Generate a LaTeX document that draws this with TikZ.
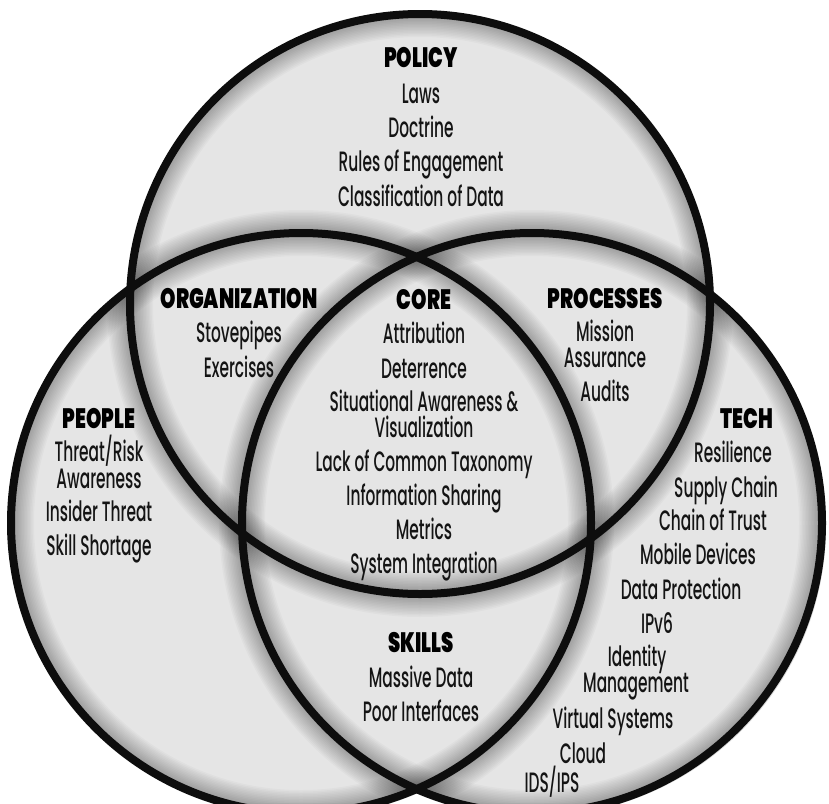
\documentclass[tikz,border=0pt]{standalone}
\usepackage{fontspec}
\setmainfont{Poppins Medium}[FakeStretch=0.55]
\newfontfamily\headfont{Poppins Black}[FakeStretch=0.70]
\begin{document}
\begin{tikzpicture}[x=1pt,y=-1pt]
\tikzset{
  item/.style={font=\fontsize{28}{30}\selectfont, text height=18.5pt, text depth=0pt, inner sep=0pt, text=black!92},
  head/.style={font=\headfont\fontsize{28}{30}\selectfont, text height=19pt, text depth=0pt, inner sep=0pt, text=black},
  ring/.style={line width=8pt, draw=black!95},
  glow/.style={draw=black, opacity=0.025}
}
\useasboundingbox (0,0) rectangle (829,803);
\fill[white] (0,0) rectangle (829,803);
\coordinate (T) at (420,304);
\coordinate (L) at (301,523);
\coordinate (Rc) at (532,523);
% drop shadow
\fill[black, opacity=0.15] ([shift={(4,3)}]T) circle[radius=290pt] ([shift={(4,3)}]L) circle[radius=290pt] ([shift={(4,3)}]Rc) circle[radius=290pt];
\begin{scope}
  \clip (T) circle[radius=290pt] (L) circle[radius=290pt] (Rc) circle[radius=290pt];
  \fill[black!10] (0,0) rectangle (829,803);
  \foreach \w in {10,13,...,46} {
    \draw[glow, line width=\w pt] (T) circle[radius=290pt];
    \draw[glow, line width=\w pt] (L) circle[radius=290pt];
    \draw[glow, line width=\w pt] (Rc) circle[radius=290pt];
  }
\end{scope}
\draw[ring] (T) circle[radius=290pt];
\draw[ring] (L) circle[radius=290pt];
\draw[ring] (Rc) circle[radius=290pt];
% POLICY
\node[head] (policy) at (421,58) {POLICY};
\node[item] (laws) at (421,94) {Laws};
\node[item] (doctrine) at (421,128) {Doctrine};
\node[item] (roe) at (421,162) {Rules of Engagement};
\node[item] (cod) at (421,197) {Classification of Data};
% ORGANIZATION
\node[head] (org) at (239,299) {ORGANIZATION};
\node[item] (stove) at (239,333) {Stovepipes};
\node[item] (exer) at (239,368) {Exercises};
% CORE
\node[head] (core) at (424,300) {CORE};
\node[item] (attr) at (424,334) {Attribution};
\node[item] (deter) at (424,369) {Deterrence};
\node[item] (sit) at (424,402) {Situational Awareness \&};
\node[item] (visu) at (424,428) {Visualization};
\node[item] (lack) at (424,462) {Lack of Common Taxonomy};
\node[item] (info) at (424,496) {Information Sharing};
\node[item] (metr) at (424,530) {Metrics};
\node[item] (sysint) at (424,564) {System Integration};
% PROCESSES
\node[head] (proc) at (605,299) {PROCESSES};
\node[item] (mission) at (605,332) {Mission};
\node[item] (assur) at (605,358) {Assurance};
\node[item] (audits) at (605,392) {Audits};
% PEOPLE
\node[head] (people) at (99,419) {PEOPLE};
\node[item] (threat) at (99,452) {Threat/Risk};
\node[item] (aware) at (99,479) {Awareness};
\node[item] (insider) at (99,512) {Insider Threat};
\node[item] (skillsh) at (99,546) {Skill Shortage};
% TECH
\node[head] (tech) at (747,419) {TECH};
\node[item] (resil) at (733,453) {Resilience};
\node[item] (supply) at (726,488) {Supply Chain};
\node[item] (trust) at (713,521) {Chain of Trust};
\node[item] (mobile) at (698,555) {Mobile Devices};
\node[item] (dataprot) at (681,590) {Data Protection};
\node[item] (ipv6) at (657,624) {IPv6};
\node[item] (ident) at (637,657) {Identity};
\node[item] (manage) at (636,683) {Management};
\node[item] (virt) at (613,719) {Virtual Systems};
\node[item] (cloud) at (583,754) {Cloud};
\node[item] (ids) at (552,783) {IDS/IPS};
% SKILLS
\node[head] (skills) at (421,643) {SKILLS};
\node[item] (massive) at (421,678) {Massive Data};
\node[item] (poor) at (421,712) {Poor Interfaces};
\end{tikzpicture}
\end{document}
